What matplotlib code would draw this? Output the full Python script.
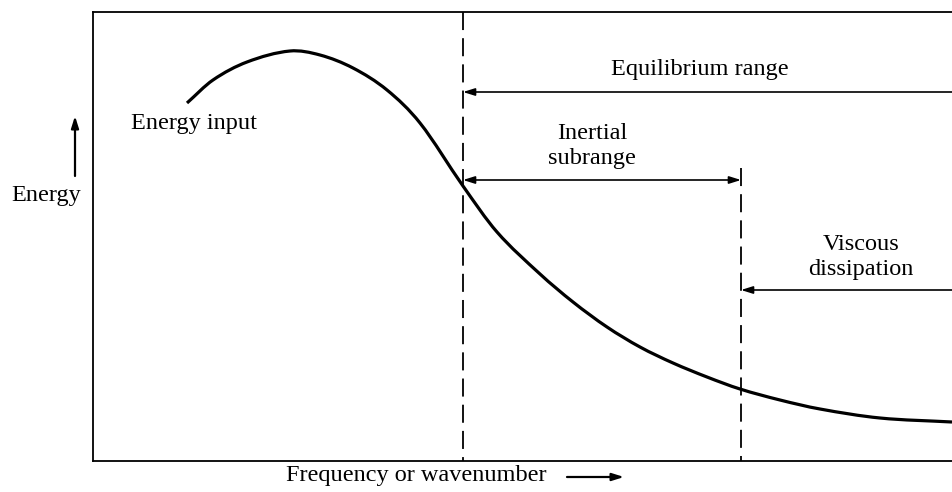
import matplotlib
matplotlib.use('Agg')
import matplotlib.pyplot as plt
from matplotlib.path import Path
from matplotlib.patches import PathPatch

plt.rcParams['font.family'] = ['Liberation Serif', 'DejaVu Serif']

# curve (x right, y down, image pixels)
curve_x = [187, 213, 247, 290, 320, 353, 387, 420, 463, 497, 540, 573, 607, 640, 673,
           707, 740, 780, 820, 880, 952]
curve_y = [103, 80, 62, 51, 55, 68, 90, 123, 186, 232, 274, 302, 327, 347, 363,
           377, 389, 400, 409, 418, 422]

# boundaries of the ranges
k_equil = 463
k_visc = 741
x_right = 952


def smooth_path(xs, ys):
    # cubic hermite in x through the read points, as bezier segments
    n = len(xs)
    m = []
    for i in range(n):
        a = max(i - 1, 0)
        b = min(i + 1, n - 1)
        m.append((ys[b] - ys[a]) / (xs[b] - xs[a]))
    verts = [(xs[0], ys[0])]
    codes = [Path.MOVETO]
    for i in range(n - 1):
        h = xs[i + 1] - xs[i]
        verts += [(xs[i] + h / 3, ys[i] + m[i] * h / 3),
                  (xs[i + 1] - h / 3, ys[i + 1] - m[i + 1] * h / 3),
                  (xs[i + 1], ys[i + 1])]
        codes += [Path.CURVE4] * 3
    return Path(verts, codes)


fig = plt.figure(figsize=(9.52, 4.92), dpi=100)
ax = fig.add_axes([93 / 952, (492 - 461) / 492, (952 - 93) / 952, (461 - 12) / 492])
ax.set_xlim(93, 952)
ax.set_ylim(461, 12)
ax.set_xticks([])
ax.set_yticks([])
for s in ['top', 'bottom', 'left']:
    ax.spines[s].set_linewidth(1.3)
ax.spines['right'].set_visible(False)

ax.add_patch(PathPatch(smooth_path(curve_x, curve_y), fill=False, edgecolor='black',
                       lw=2.3, capstyle='butt'))

# dashed boundaries
ax.plot([k_equil, k_equil], [12, 461], color='black', lw=1.3, dashes=(10, 4.5))
ax.plot([k_visc, k_visc], [168, 461], color='black', lw=1.3, dashes=(10, 4.5))

fs = 17.5
aprops = dict(arrowstyle='-|>,head_length=0.7,head_width=0.22', color='black', lw=1.2,
              shrinkA=0, shrinkB=0)

# equilibrium range
ax.annotate('', xy=(k_equil, 92), xytext=(x_right, 92), arrowprops=aprops)
ax.text(700, 70, 'Equilibrium range', ha='center', va='center', fontsize=fs)

# inertial subrange
ax.annotate('', xy=(k_equil, 180), xytext=(k_visc, 180),
            arrowprops=dict(aprops, arrowstyle='<|-|>,head_length=0.7,head_width=0.22'))
ax.text(592, 146, 'Inertial\nsubrange', ha='center', va='center', fontsize=fs,
        linespacing=1.2)

# viscous dissipation
ax.annotate('', xy=(k_visc, 290), xytext=(x_right, 290), arrowprops=aprops)
ax.text(861, 257, 'Viscous\ndissipation', ha='center', va='center', fontsize=fs,
        linespacing=1.2)

ax.text(194, 124, 'Energy input', ha='center', va='center', fontsize=fs)

# outside labels
ax.text(46, 196, 'Energy', ha='center', va='center', fontsize=fs, clip_on=False)
ax.annotate('', xy=(75, 116), xytext=(75, 176), annotation_clip=False,
            arrowprops=dict(aprops, lw=1.6))
ax.text(416, 476, 'Frequency or wavenumber', ha='center', va='center', fontsize=fs,
        clip_on=False)
ax.annotate('', xy=(624, 477), xytext=(567, 477), annotation_clip=False,
            arrowprops=dict(aprops, lw=1.6))

fig.savefig('out.png', dpi=100)
